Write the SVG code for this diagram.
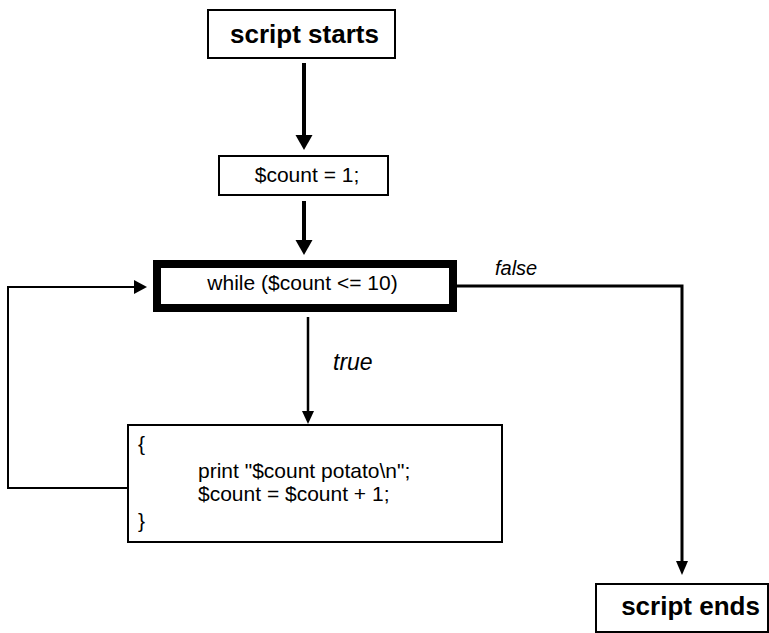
<svg xmlns="http://www.w3.org/2000/svg" width="769" height="633" viewBox="0 0 769 633">
<style>
.box{fill:#fff;stroke:#000;stroke-width:2}
.t{font-family:"Liberation Sans",Arial,sans-serif;font-size:21px;fill:#000}
.b{font-family:"Liberation Sans",Arial,sans-serif;font-size:26px;font-weight:bold;fill:#000}
.i{font-family:"Liberation Sans",Arial,sans-serif;font-style:italic;fill:#000}
.ln{fill:none;stroke:#000}
.hd{fill:#000}
</style>
<rect width="769" height="633" fill="#fff"/>
<g id="connectors">
  <line class="ln" x1="304" y1="63" x2="304" y2="137" stroke-width="4"/>
  <polygon class="hd" points="295.5,135 312.5,135 304,150"/>
  <line class="ln" x1="304" y1="201" x2="304" y2="242" stroke-width="4"/>
  <polygon class="hd" points="295.5,240 312.5,240 304,255"/>
  <line class="ln" x1="308" y1="317" x2="308" y2="412" stroke-width="2.5"/>
  <polygon class="hd" points="302,411 314,411 308,424"/>
  <polyline class="ln" points="127,488 8,488 8,287 136,287" stroke-width="2"/>
  <polygon class="hd" points="134,280 134,294 147,287"/>
  <polyline class="ln" points="457,286 682,286 682,562" stroke-width="3"/>
  <polygon class="hd" points="676,561 688,561 682,575"/>
  <text class="i" x="333" y="370" font-size="23">true</text>
  <text class="i" x="495" y="275" font-size="20">false</text>
</g>
<g id="start">
  <rect class="box" x="208" y="10" width="187" height="48"/>
  <text class="b" x="304.5" y="43" text-anchor="middle">script starts</text>
</g>
<g id="init">
  <rect class="box" x="219" y="156" width="169" height="39"/>
  <text class="t" x="307" y="182" text-anchor="middle">$count = 1;</text>
</g>
<g id="while">
  <rect x="157" y="264" width="296" height="44" fill="#fff" stroke="#000" stroke-width="8"/>
  <text class="t" x="302.5" y="290" text-anchor="middle">while ($count &lt;= 10)</text>
</g>
<g id="body">
  <rect class="box" x="128" y="425" width="374" height="117"/>
  <text class="t" x="138" y="451">{</text>
  <text class="t" x="198" y="478">print "$count potato\n";</text>
  <text class="t" x="198" y="501">$count = $count + 1;</text>
  <text class="t" x="138" y="528">}</text>
</g>
<g id="end">
  <rect class="box" x="596" y="584" width="172" height="48"/>
  <text class="b" x="690.5" y="615" text-anchor="middle">script ends</text>
</g>
</svg>
